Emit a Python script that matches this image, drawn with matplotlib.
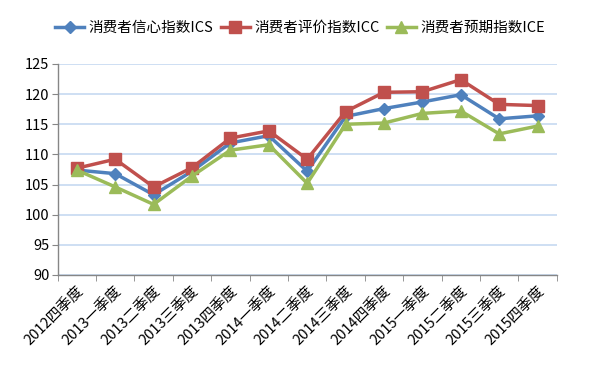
import numpy as np
import matplotlib.pyplot as plt
from matplotlib.ticker import FixedLocator

plt.rcParams['font.family'] = ['Noto Sans CJK SC', 'DejaVu Sans']

# 季度
quarters = ['2012四季度', '2013一季度', '2013二季度', '2013三季度', '2013四季度',
            '2014一季度', '2014二季度', '2014三季度', '2014四季度',
            '2015一季度', '2015二季度', '2015三季度', '2015四季度']

# 指数
ics = [107.4, 106.8, 103.3, 107.2, 111.9, 113.1, 107.2, 116.3, 117.6, 118.7, 119.9, 115.9, 116.4]
icc = [107.7, 109.2, 104.6, 107.8, 112.7, 113.9, 109.2, 117.1, 120.3, 120.4, 122.4, 118.3, 118.1]
ice = [107.4, 104.6, 101.7, 106.4, 110.7, 111.6, 105.2, 115.0, 115.2, 116.8, 117.2, 113.4, 114.7]

names = ['消费者信心指数ICS', '消费者评价指数ICC', '消费者预期指数ICE']
colors = ['#4F81BD', '#C0504D', '#9BBB59']
markers = ['D', 's', '^']
msizes = [6, 8, 8.5]

fig = plt.figure(figsize=(6, 3.72), dpi=100)
ax = fig.add_axes([0.096, 0.261, 0.832, 0.567])

x = np.arange(len(quarters))
for y, name, c, m, ms in zip([ics, icc, ice], names, colors, markers, msizes):
    ax.plot(x, y, color=c, lw=2.5, marker=m, ms=ms, mec=c, mfc=c, label=name, zorder=3)

ax.set_ylim(90, 125)
ax.set_yticks(np.arange(90, 126, 5))
ax.set_xlim(-0.5, len(quarters) - 0.5)
ax.set_xticks(x)
ax.set_xticklabels(quarters, rotation=45, ha='right', rotation_mode='anchor', fontsize=10.5)
ax.xaxis.set_minor_locator(FixedLocator(np.arange(-0.5, len(quarters), 1)))
ax.tick_params(axis='x', which='major', length=0, pad=7)
ax.tick_params(axis='x', which='minor', length=4, color='#868686')
ax.tick_params(axis='y', length=4, color='#868686', labelsize=10.5, pad=2)

ax.grid(axis='y', color='#C6D9F1', lw=1.2)
ax.set_axisbelow(True)
for s in ['top', 'right']:
    ax.spines[s].set_visible(False)
for s in ['left', 'bottom']:
    ax.spines[s].set_color('#868686')
    ax.spines[s].set_linewidth(1)

fig.legend(loc='center', bbox_to_anchor=(0.5, 0.925), ncol=3, frameon=False,
           fontsize=10.5, handlelength=2.0, handletextpad=0.3, columnspacing=0.5)

fig.savefig('out.png', dpi=100)
